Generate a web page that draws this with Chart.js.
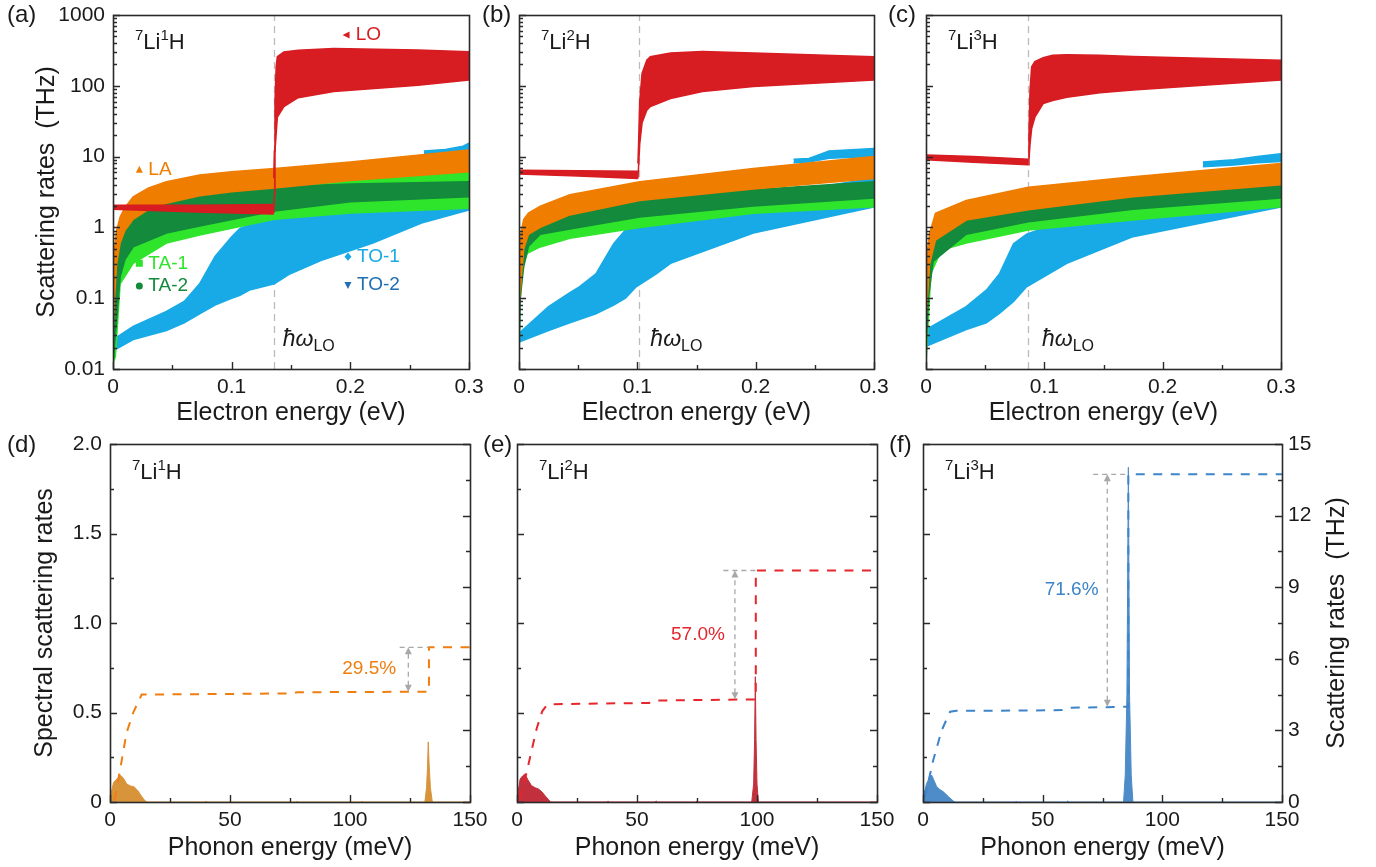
<!DOCTYPE html>
<html>
<head>
<meta charset="utf-8">
<script src="https://cdn.jsdelivr.net/npm/chart.js@4.4.1/dist/chart.umd.min.js"></script>
<style>
  body { margin: 0; background: #fff; }
  #wrap { position: relative; width: 1376px; height: 867px; overflow: hidden; }
  canvas { position: absolute; }
</style>
</head>
<body>
<div id="wrap"></div>
<script>
// ---------- data ----------
// top row: electron energy (eV) vs scattering rate (THz), bands as [x, lower, upper]
const hwLO = [0.136, 0.101, 0.0865];          // LO phonon energy per isotope
const hwLabelX = [0.143, 0.111, 0.098];

const aLOflat = [[0, 1.8, 2.05], [0.07, 1.65, 2.05], [0.1355, 1.55, 2.1]];
const aLOpost = [[0.1355, 1.6, 5], [0.136, 3, 12], [0.1365, 12, 60], [0.1375, 21, 186], [0.1385, 36, 257], [0.144, 51, 300], [0.156, 68, 318], [0.186, 83, 336], [0.257, 102, 320], [0.3, 121, 303]];
const aLA = [[0, 0.03, 0.3], [0.0013, 0.1, 0.5], [0.003, 0.3, 0.9], [0.006, 0.6, 1.4], [0.01, 0.9, 1.9], [0.017, 1.3, 2.7], [0.03, 1.8, 3.6], [0.045, 2.2, 4.4], [0.073, 2.8, 5.5], [0.1, 3.2, 6.1], [0.136, 3.6, 6.8], [0.2, 4.6, 8.4], [0.3, 6.1, 12.4]];
const aTA2 = [[0, 0.012, 0.04], [0.002, 0.03, 0.15], [0.006, 0.2, 0.8], [0.01, 0.35, 1.2], [0.017, 0.53, 1.67], [0.045, 0.83, 2.7], [0.073, 1.05, 3.2], [0.136, 1.7, 3.76], [0.2, 2.3, 4.1], [0.3, 2.7, 4.4]];
const aTA1 = [[0, 0.012, 0.05], [0.002, 0.015, 0.1], [0.006, 0.16, 0.6], [0.017, 0.31, 1.2], [0.045, 0.6, 2.0], [0.073, 0.78, 2.6], [0.136, 1.3, 4.0], [0.2, 1.6, 4.8], [0.3, 1.86, 6.1]];
const aTO = [[0, 0.018, 0.026], [0.017, 0.026, 0.04], [0.045, 0.035, 0.065], [0.06, 0.045, 0.09], [0.073, 0.06, 0.16], [0.086, 0.08, 0.39], [0.1, 0.1, 0.74], [0.107, 0.11, 0.97], [0.115, 0.13, 1.08], [0.136, 0.16, 1.25], [0.149, 0.22, 1.5], [0.177, 0.35, 2.1], [0.219, 0.6, 3.0], [0.26, 1.15, 4.0], [0.3, 1.76, 5.5]];
const aTOhigh = [[0.262, 11, 12], [0.28, 11, 12.6], [0.295, 11.5, 14], [0.3, 11, 15.5]];

const bLOflat = [[0, 5.7, 6.4], [0.05, 5.3, 6.3], [0.1005, 4.9, 6.2]];
const bLOpost = [[0.1005, 4.9, 8], [0.101, 7, 14], [0.102, 15, 60], [0.104, 30, 150], [0.108, 45, 230], [0.111, 51, 257], [0.128, 66, 290], [0.155, 83, 305], [0.198, 98, 290], [0.3, 121, 257]];
const bLA = [[0, 0.08, 0.3], [0.002, 0.2, 0.9], [0.004, 0.5, 1.3], [0.008, 0.8, 1.6], [0.018, 1.0, 2.0], [0.043, 1.5, 2.9], [0.102, 2.4, 4.4], [0.198, 3.5, 6.8], [0.3, 4.9, 10]];
const bTA2 = [[0, 0.02, 0.1], [0.001, 0.1, 0.28], [0.004, 0.28, 0.6], [0.008, 0.54, 1.0], [0.018, 0.8, 1.4], [0.043, 0.95, 1.7], [0.102, 1.4, 2.6], [0.198, 2.0, 3.4], [0.3, 2.6, 4.4]];
const bTA1 = [[0, 0.013, 0.05], [0.001, 0.094, 0.2], [0.003, 0.28, 0.5], [0.007, 0.43, 0.8], [0.018, 0.53, 1.0], [0.043, 0.7, 1.3], [0.102, 1.0, 2.0], [0.198, 1.58, 2.8], [0.3, 1.95, 3.6]];
const bTO = [[0, 0.024, 0.032], [0.025, 0.035, 0.076], [0.043, 0.045, 0.12], [0.051, 0.05, 0.145], [0.065, 0.06, 0.22], [0.08, 0.08, 0.59], [0.09, 0.1, 0.92], [0.099, 0.145, 1.05], [0.116, 0.22, 1.27], [0.128, 0.31, 1.5], [0.198, 0.83, 2.6], [0.3, 1.95, 5.0]];
const bTOhigh = [[0.232, 8.2, 9.2], [0.245, 8.4, 9.4], [0.262, 9.5, 12], [0.3, 10, 13]];

const cLOflat = [[0, 9.0, 10.5], [0.04, 8.3, 10.0], [0.0865, 7.7, 9.2]];
const cLOpost = [[0.0865, 7.7, 10], [0.087, 9, 21], [0.0879, 15, 87], [0.0893, 25, 186], [0.092, 36, 220], [0.099, 56, 250], [0.107, 62, 270], [0.119, 69, 275], [0.147, 80, 270], [0.175, 87, 260], [0.3, 121, 230]];
const cLA = [[0, 0.05, 0.3], [0.003, 0.3, 0.82], [0.008, 0.66, 1.58], [0.034, 1.27, 2.4], [0.0865, 1.78, 3.7], [0.175, 2.7, 5.2], [0.3, 4.0, 8.0]];
const cTA2 = [[0, 0.02, 0.1], [0.002, 0.1, 0.3], [0.006, 0.33, 0.82], [0.034, 0.8, 1.3], [0.0865, 1.2, 2.1], [0.175, 1.8, 2.8], [0.3, 2.6, 3.9]];
const cTA1 = [[0, 0.012, 0.05], [0.004, 0.22, 0.5], [0.013, 0.48, 0.9], [0.034, 0.6, 1.1], [0.0865, 0.92, 1.7], [0.175, 1.27, 2.4], [0.3, 1.95, 3.4]];
const cTO = [[0, 0.021, 0.036], [0.034, 0.036, 0.076], [0.051, 0.045, 0.13], [0.062, 0.061, 0.22], [0.074, 0.09, 0.59], [0.085, 0.145, 0.8], [0.119, 0.31, 1.27], [0.175, 0.74, 2.4], [0.3, 1.95, 4.7]];
const cTOhigh = [[0.234, 7.2, 8.4], [0.26, 7.6, 9], [0.28, 8.2, 10], [0.3, 8.5, 11]];

// legend entries drawn inside panel (a): [label, marker, x, y]
const legendA = [['LO', 'left', 0.197, 522], ['LA', 'up', 0.0222, 6.47], ['TA-1', 'sq', 0.0222, 0.311], ['TA-2', 'circ', 0.0222, 0.149], ['TO-1', 'diam', 0.198, 0.386], ['TO-2', 'down', 0.198, 0.154]];

// bottom row: phonon energy (meV) vs spectral rate (left) and cumulative rate in THz (right)
const dSpec = [[0, 0], [0.5, 0.05], [1.5, 0.11], [3, 0.13], [4.3, 0.15], [5.5, 0.135], [7, 0.1], [8.5, 0.09], [10, 0.085], [11.5, 0.065], [13, 0.035], [14.5, 0.008], [15.5, 0], [39.5, 0], [40, 0.004], [40.5, 0], [77.5, 0], [78, 0.004], [78.5, 0], [104.5, 0], [105, 0.003], [105.5, 0], [131.2, 0], [131.9, 0.08], [132.3, 0.2], [132.6, 0.336], [133, 0.2], [133.5, 0.08], [134.3, 0], [150, 0]];
const eSpec = [[0, 0], [0.5, 0.06], [1.3, 0.128], [2.3, 0.145], [3.3, 0.156], [4.5, 0.125], [6, 0.092], [7.5, 0.08], [9, 0.072], [10.5, 0.055], [11.7, 0.035], [13, 0.015], [14, 0], [37.5, 0], [38, 0.004], [38.5, 0], [57.5, 0], [58, 0.005], [58.5, 0], [74.5, 0], [75, 0.005], [75.5, 0], [97.8, 0], [98.6, 0.1], [99, 0.35], [99.3, 0.7], [99.6, 0.35], [100, 0.1], [100.6, 0], [150, 0]];
const fSpec = [[0, 0], [0.5, 0.05], [1.5, 0.104], [2.5, 0.13], [3.6, 0.151], [4.6, 0.12], [5.7, 0.086], [7, 0.07], [8.4, 0.058], [9.5, 0.045], [10.6, 0.03], [12.7, 0.005], [13.5, 0], [38.5, 0], [39, 0.003], [39.5, 0], [60, 0], [60.5, 0.006], [61, 0], [83.8, 0], [84.5, 0.15], [85.2, 0.6], [85.8, 1.87], [86.3, 0.6], [87, 0.15], [87.7, 0], [150, 0]];
const dCum = [[1.8, 0.1], [2.2, 0.23], [4.2, 1.35], [6.9, 2.9], [9.7, 3.75], [13.2, 4.5], [40, 4.52], [76, 4.55], [78, 4.6], [132.9, 4.62], [132.9, 6.48], [150, 6.48]];
const eCum = [[1.25, 0.13], [4, 1.24], [8.2, 3.08], [10.5, 3.8], [12.4, 4.05], [15, 4.1], [55, 4.15], [58, 4.25], [99.5, 4.3], [99.5, 9.7], [150, 9.7]];
const fCum = [[0.8, 0.22], [4.3, 1.76], [7.8, 3.0], [11.3, 3.78], [14, 3.82], [40, 3.83], [58, 3.85], [61, 3.95], [85.8, 3.99], [85.8, 13.73], [150, 13.73]];
// LO share: [arrow x, from THz, to THz, guide start x], [label x, label THz, text]
const dShare = [124.3, 4.62, 6.48, 120.7], dShareLabel = [108, 5.57, '29.5%'];
const eShare = [90.8, 4.3, 9.7, 86], eShareLabel = [75.4, 7.02, '57.0%'];
const fShare = [77, 3.99, 13.73, 71.1], fShareLabel = [62.1, 8.88, '71.6%'];

// ---------- style ----------
const FONT = 'Arial, "Liberation Sans", sans-serif';
const INK = '#1a1a1a';
const COL = { LO: '#d71c22', LA: '#ef7d00', 'TA-1': '#2fe52b', 'TA-2': '#148a3c', 'TO-1': '#17aae6', 'TO-2': '#1f6db3' };
const TICK = 21, TITLE = 25;
Chart.defaults.font.family = FONT;
Chart.defaults.font.size = TICK;
Chart.defaults.color = INK;

const wrap = document.getElementById('wrap');

function makeCanvas(g) {
  const cv = document.createElement('canvas');
  cv.width = g.cw; cv.height = g.ch;
  cv.style.left = g.cx + 'px'; cv.style.top = g.cy + 'px';
  cv.style.width = g.cw + 'px'; cv.style.height = g.ch + 'px';
  wrap.appendChild(cv);
  return cv;
}

function rich(ctx, parts, x, y, size, color, align, rot) {
  const fontOf = k => (k === 'i' ? 'italic ' : '') + Math.round(k === 'sup' || k === 'sub' ? size * 0.68 : size) + 'px ' + FONT;
  let w = 0;
  parts.forEach(([t, k]) => { ctx.font = fontOf(k); w += ctx.measureText(t).width; });
  ctx.save();
  ctx.translate(x, y);
  if (rot) ctx.rotate(rot);
  let px = align === 'center' ? -w / 2 : align === 'right' ? -w : 0;
  ctx.fillStyle = color; ctx.textBaseline = 'middle'; ctx.textAlign = 'left';
  parts.forEach(([t, k]) => {
    ctx.font = fontOf(k);
    const dy = k === 'sup' ? -size * 0.33 : k === 'sub' ? size * 0.3 : 0;
    ctx.fillText(t, px, dy);
    px += ctx.measureText(t).width;
  });
  ctx.restore();
}

function marker(ctx, shape, x, y, r, col) {
  ctx.fillStyle = col;
  ctx.beginPath();
  if (shape === 'sq') ctx.rect(x - r, y - r, 2 * r, 2 * r);
  else if (shape === 'circ') ctx.arc(x, y, r, 0, Math.PI * 2);
  else if (shape === 'diam') { ctx.moveTo(x, y - r * 1.2); ctx.lineTo(x + r, y); ctx.lineTo(x, y + r * 1.2); ctx.lineTo(x - r, y); }
  else if (shape === 'up') { ctx.moveTo(x, y - r * 1.2); ctx.lineTo(x + r, y + r * 0.8); ctx.lineTo(x - r, y + r * 0.8); }
  else if (shape === 'down') { ctx.moveTo(x, y + r * 1.2); ctx.lineTo(x + r, y - r * 0.8); ctx.lineTo(x - r, y - r * 0.8); }
  else if (shape === 'left') { ctx.moveTo(x - r * 1.2, y); ctx.lineTo(x + r * 0.8, y - r); ctx.lineTo(x + r * 0.8, y + r); }
  ctx.closePath();
  ctx.fill();
}

// inward tick marks along one side of the chart area
function inTicks(ctx, scale, area, side) {
  const vals = [];
  if (scale.type === 'logarithmic') {
    const e0 = Math.round(Math.log10(scale.min)), e1 = Math.round(Math.log10(scale.max));
    for (let e = e0; e < e1; e++) for (let k = 1; k < 10; k++) vals.push([k * Math.pow(10, e), k === 1]);
    vals.push([scale.max, true]);
  } else {
    const t = scale.ticks.map(tk => tk.value);
    t.forEach((v, i) => { vals.push([v, true]); if (i < t.length - 1) vals.push([(v + t[i + 1]) / 2, false]); });
  }
  ctx.beginPath();
  vals.forEach(([v, major]) => {
    const len = major ? 7 : 4;
    const p = Math.round(scale.getPixelForValue(v)) + 0.5;
    if (side === 'bottom') { ctx.moveTo(p, area.bottom); ctx.lineTo(p, area.bottom - len); }
    if (side === 'left') { ctx.moveTo(area.left, p); ctx.lineTo(area.left + len, p); }
    if (side === 'right') { ctx.moveTo(area.right, p); ctx.lineTo(area.right - len, p); }
  });
  ctx.stroke();
}

function arrowHead(ctx, x, y, dir) {
  ctx.beginPath();
  ctx.moveTo(x, y); ctx.lineTo(x - 3.5, y - dir * 7); ctx.lineTo(x + 3.5, y - dir * 7);
  ctx.closePath(); ctx.fill();
}

const panelPlugin = {
  id: 'panel',
  beforeDatasetsDraw(chart) {
    const p = chart.canvas.panel, ctx = chart.ctx, a = chart.chartArea;
    if (p.hw == null) return;
    const x = Math.round(chart.scales.x.getPixelForValue(p.hw)) + 0.5;
    ctx.save();
    ctx.strokeStyle = '#bcbcbc'; ctx.lineWidth = 1.3; ctx.setLineDash([7, 5]);
    ctx.beginPath(); ctx.moveTo(x, a.bottom); ctx.lineTo(x, a.top); ctx.stroke();
    ctx.restore();
  },
  afterDatasetsDraw(chart) {
    const p = chart.canvas.panel, ctx = chart.ctx;
    if (!p.share) return;
    const sx = chart.scales.x, sy = chart.scales.y2;
    const [ax, y0, y1, gx] = p.share;
    const X = sx.getPixelForValue(ax), Y0 = sy.getPixelForValue(y0), Y1 = sy.getPixelForValue(y1);
    ctx.save();
    ctx.strokeStyle = '#a8a8a8'; ctx.fillStyle = '#a8a8a8'; ctx.lineWidth = 1.3; ctx.setLineDash([5, 4]);
    ctx.beginPath();
    ctx.moveTo(sx.getPixelForValue(gx), Y1); ctx.lineTo(sx.getPixelForValue(p.stepX), Y1);
    ctx.moveTo(X, Y0 - 6); ctx.lineTo(X, Y1 + 6);
    ctx.stroke();
    ctx.setLineDash([]);
    arrowHead(ctx, X, Y1, -1);
    arrowHead(ctx, X, Y0, 1);
    const [lx, ly, txt] = p.shareLabel;
    rich(ctx, [[txt, '']], sx.getPixelForValue(lx), sy.getPixelForValue(ly), 19, p.lineColor, 'center');
    ctx.restore();
  },
  afterDraw(chart) {
    const p = chart.canvas.panel, ctx = chart.ctx, a = chart.chartArea, g = p.geo;
    ctx.save();
    ctx.strokeStyle = '#2a2a2a'; ctx.lineWidth = 1.4;
    inTicks(ctx, chart.scales.x, a, 'bottom');
    inTicks(ctx, chart.scales.y, a, 'left');
    if (chart.scales.y2) inTicks(ctx, chart.scales.y2, a, 'right');
    ctx.lineWidth = 1.6;
    ctx.strokeRect(Math.round(a.left) + 0.5, Math.round(a.top) + 0.5, Math.round(a.right - a.left), Math.round(a.bottom - a.top));
    // texts given in page coordinates
    p.texts.forEach(t => rich(ctx, t.parts, t.x - g.cx, t.y - g.cy, t.size, t.color || INK, t.align || 'left', t.rot));
    // in-plot labels in data coordinates
    if (p.legend) {
      p.legend.forEach(([lab, shape, x, y]) => {
        const px = chart.scales.x.getPixelForValue(x), py = chart.scales.y.getPixelForValue(y);
        marker(ctx, shape, px, py, 3.5, COL[lab]);
        rich(ctx, [[lab, '']], px + 9, py, 19, COL[lab], 'left');
      });
    }
    if (p.hwLabel != null) {
      const px = chart.scales.x.getPixelForValue(p.hwLabel), py = chart.scales.y.getPixelForValue(0.026);
      rich(ctx, [['ħω', 'i'], ['LO', 'sub']], px, py, 23, INK, 'left');
    }
    ctx.restore();
  }
};

function fixY(width) {
  return s => { s.width = width; s.paddingTop = 0; s.paddingBottom = 0; s.paddingLeft = 0; s.paddingRight = 0; };
}
function fixX(height) {
  return s => { s.height = height; s.paddingLeft = 0; s.paddingRight = 0; s.paddingTop = 0; s.paddingBottom = 0; };
}
const pts = (rows, i) => rows.map(r => ({ x: r[0], y: r[i] }));
const material = n => [['7', 'sup'], ['Li', ''], [String(n), 'sup'], ['H', '']];
const noGrid = { display: false, drawTicks: false };

// ---------- top row ----------
function topPanel(g, k, bands) {
  const cv = makeCanvas(g);
  const ds = [];
  bands.forEach(([rows, lab]) => {
    const lo = ds.length;
    ds.push({ data: pts(rows, 1), borderColor: COL[lab], borderWidth: 1.5, pointRadius: 0, fill: false, tension: 0 });
    ds.push({ data: pts(rows, 2), borderColor: COL[lab], backgroundColor: COL[lab], borderWidth: 1.5, pointRadius: 0, fill: lo, tension: 0 });
  });
  const texts = [
    { parts: [['(' + 'abc'[k] + ')', '']], x: g.cx + (k === 0 ? 7 : 4), y: 15, size: 24 },
    { parts: material(k + 1), x: g.L + 22, y: 43, size: 22 },
    { parts: [['Electron energy (eV)', '']], x: (g.L + g.R) / 2, y: 413, size: TITLE, align: 'center' }
  ];
  if (k === 0) texts.push({ parts: [['Scattering rates  (THz)', '']], x: 47, y: 192, size: TITLE, align: 'center', rot: -Math.PI / 2 });
  cv.panel = { geo: g, texts, hw: hwLO[k], hwLabel: hwLabelX[k], legend: k === 0 ? legendA : null };
  new Chart(cv, {
    type: 'line',
    data: { datasets: ds },
    options: {
      responsive: false, animation: false, devicePixelRatio: 1,
      layout: { padding: { left: 0, top: g.T - g.cy, right: g.cx + g.cw - g.R, bottom: 0 } },
      plugins: { legend: { display: false }, tooltip: { enabled: false } },
      scales: {
        x: {
          type: 'linear', min: 0, max: 0.3,
          grid: noGrid, border: { display: false },
          ticks: { stepSize: 0.1, padding: 6, maxRotation: 0, autoSkip: false, callback: v => v === 0 ? '0' : String(Math.round(v * 10) / 10) },
          afterFit: fixX(g.cy + g.ch - g.B)
        },
        y: {
          type: 'logarithmic', min: 0.01, max: 1000,
          grid: noGrid, border: { display: false },
          ticks: {
            display: k === 0, padding: 8, autoSkip: false,
            callback: v => { const l = Math.log10(v); return Math.abs(l - Math.round(l)) < 1e-6 ? String(v) : ''; }
          },
          afterFit: fixY(g.L - g.cx)
        }
      }
    },
    plugins: [panelPlugin]
  });
}

// ---------- bottom row ----------
function bottomPanel(g, k, spec, cum, share, shareLabel, lineColor, fillColor, stepX) {
  const cv = makeCanvas(g);
  const texts = [
    { parts: [['(' + 'def'[k] + ')', '']], x: g.cx + (k === 0 ? 7 : 5), y: 445, size: 24 },
    { parts: material(k + 1), x: g.L + 22, y: 473, size: 22 },
    { parts: [['Phonon energy (meV)', '']], x: (g.L + g.R) / 2, y: 848, size: TITLE, align: 'center' }
  ];
  if (k === 0) texts.push({ parts: [['Spectral scattering rates', '']], x: 45, y: 623, size: TITLE, align: 'center', rot: -Math.PI / 2 });
  if (k === 2) texts.push({ parts: [['Scattering rates  (THz)', '']], x: 1337, y: 623, size: TITLE, align: 'center', rot: -Math.PI / 2 });
  cv.panel = { geo: g, texts, share, shareLabel, lineColor, stepX };
  new Chart(cv, {
    type: 'line',
    data: {
      datasets: [
        { data: pts(cum, 1), yAxisID: 'y2', borderColor: lineColor, borderWidth: 2, borderDash: [9, 8.5], pointRadius: 0, fill: false, tension: 0 },
        { data: pts(spec, 1), yAxisID: 'y', borderColor: fillColor, backgroundColor: fillColor, borderWidth: 1, pointRadius: 0, fill: 'origin', tension: 0 }
      ]
    },
    options: {
      responsive: false, animation: false, devicePixelRatio: 1,
      layout: { padding: { left: 0, top: g.T - g.cy, right: 0, bottom: 0 } },
      plugins: { legend: { display: false }, tooltip: { enabled: false } },
      scales: {
        x: {
          type: 'linear', min: 0, max: 150,
          grid: noGrid, border: { display: false },
          ticks: { stepSize: 50, padding: 6, maxRotation: 0, autoSkip: false },
          afterFit: fixX(g.cy + g.ch - g.B)
        },
        y: {
          type: 'linear', position: 'left', min: 0, max: 2,
          grid: noGrid, border: { display: false },
          ticks: { display: k === 0, stepSize: 0.5, padding: 8, autoSkip: false, callback: v => v === 0 ? '0' : v.toFixed(1) },
          afterFit: fixY(g.L - g.cx)
        },
        y2: {
          type: 'linear', position: 'right', min: 0, max: 15,
          grid: noGrid, border: { display: false },
          ticks: { display: k === 2, stepSize: 3, padding: 6, autoSkip: false },
          afterFit: fixY(g.cx + g.cw - g.R)
        }
      }
    },
    plugins: [panelPlugin]
  });
}

const TOP = { cy: 0, ch: 432, T: 15, B: 369 };
const BOT = { cy: 430, ch: 437, T: 444, B: 802 };
topPanel({ ...TOP, cx: 0, cw: 490, L: 113, R: 469 }, 0,
  [[aLOpost, 'LO'], [aLOflat, 'LO'], [aLA, 'LA'], [aTA2, 'TA-2'], [aTA1, 'TA-1'], [aTOhigh, 'TO-1'], [aTO, 'TO-1']]);
topPanel({ ...TOP, cx: 478, cw: 420, L: 519, R: 874 }, 1,
  [[bLOpost, 'LO'], [bLOflat, 'LO'], [bLA, 'LA'], [bTA2, 'TA-2'], [bTA1, 'TA-1'], [bTOhigh, 'TO-1'], [bTO, 'TO-1']]);
topPanel({ ...TOP, cx: 884, cw: 492, L: 926, R: 1281 }, 2,
  [[cLOpost, 'LO'], [cLOflat, 'LO'], [cLA, 'LA'], [cTA2, 'TA-2'], [cTA1, 'TA-1'], [cTOhigh, 'TO-1'], [cTO, 'TO-1']]);

bottomPanel({ ...BOT, cx: 0, cw: 490, L: 110, R: 470 }, 0, dSpec, dCum, dShare, dShareLabel, '#f07d10', '#d8943a', 132.9);
bottomPanel({ ...BOT, cx: 478, cw: 420, L: 517, R: 877 }, 1, eSpec, eCum, eShare, eShareLabel, '#e5262d', '#c2303d', 99.5);
bottomPanel({ ...BOT, cx: 884, cw: 492, L: 923, R: 1282 }, 2, fSpec, fCum, fShare, fShareLabel, '#3d84c8', '#4d8cc9', 85.8);
</script>
</body>
</html>
